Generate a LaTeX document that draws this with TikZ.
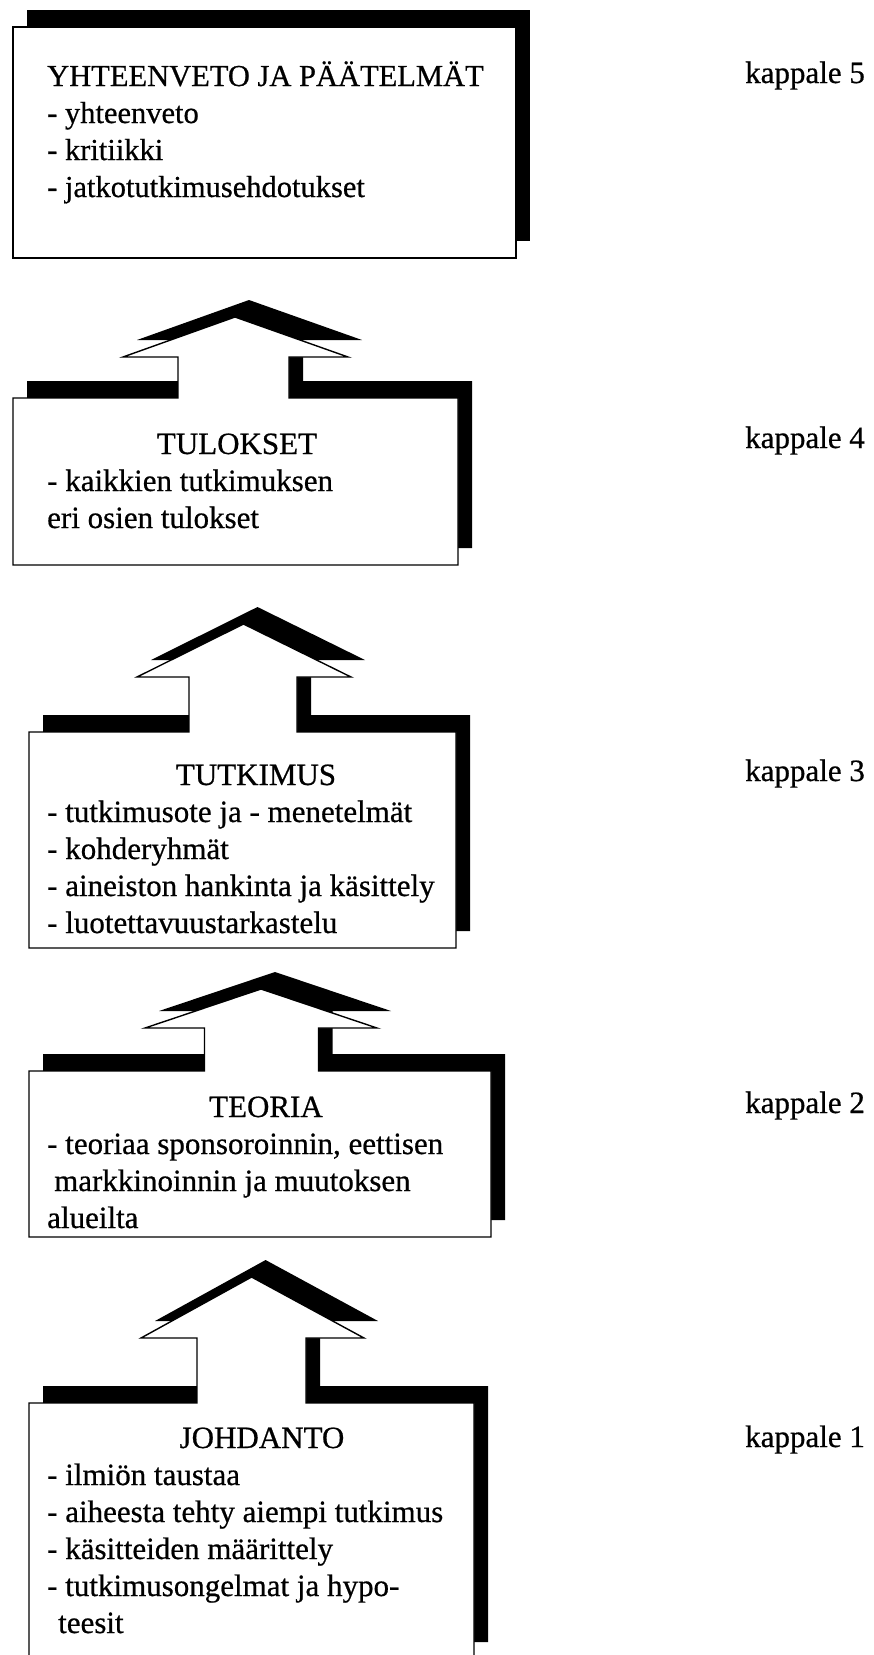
\documentclass[tikz,border=0pt]{standalone}
\usepackage{fontspec}
\setmainfont{Liberation Serif}[FakeBold=0.6]
\newfontfamily\heavyserif{Liberation Serif}[FakeBold=0.6]
\begin{document}
\begin{tikzpicture}[x=1pt,y=-1pt,
  shade/.style={fill=black,draw=none,shift={(14,-17)}},
  front/.style={fill=white,draw=black,line width=1.4pt,line join=miter},
  txt/.style={inner sep=0pt,font=\heavyserif\fontsize{31}{36}\selectfont},
  itemline/.style={txt,anchor=base west},
  ttl/.style={txt,anchor=base},
  topline/.style={inner sep=0pt,anchor=base west,font=\heavyserif\fontsize{30.5}{36}\selectfont},
  lbl/.style={txt,anchor=base west}]
\useasboundingbox (0,0) rectangle (874,1655);
\clip (0,0) rectangle (874,1655);
\fill[white] (0,0) rectangle (874,1655);
% box 5 (no arrow)
\fill[shade] (13,27) rectangle (516,258);
\draw[front] (13,27) rectangle (516,258);
% boxes with arrows
\foreach \L/\T/\R/\B/\sl/\sr/\hy/\bl/\br/\tx/\ty in {
  13/398/458/565/178/289/357/123/348/235/317,
  29/732/456/948/189/297/677/137/351/243.5/624,
  29/1071/491/1237/204.5/318.5/1028/145/377/261/989,
  29/1403/474/1659/197/306/1338/141/364/251.6/1277}{
  \fill[shade] (\L,\T) -- (\sl,\T) -- (\sl,\hy) -- (\bl,\hy) -- (\tx,\ty) -- (\br,\hy) -- (\sr,\hy) -- (\sr,\T) -- (\R,\T) -- (\R,\B) -- (\L,\B) -- cycle;
  \draw[front] (\L,\T) -- (\sl,\T) -- (\sl,\hy) -- (\bl,\hy) -- (\tx,\ty) -- (\br,\hy) -- (\sr,\hy) -- (\sr,\T) -- (\R,\T) -- (\R,\B) -- (\L,\B) -- cycle;
}
% box 5 text
\node[topline] (t5) at (47,86) {YHTEENVETO JA PÄÄTELMÄT};
\node[topline] (t5a) at (47,123) {- yhteenveto};
\node[topline] (t5b) at (47,160) {- kritiikki};
\node[topline] (t5c) at (47,197) {- jatkotutkimusehdotukset};
% box 4 text
\node[ttl] (t4) at (237,454) {TULOKSET};
\node[itemline] (t4a) at (47,491) {- kaikkien tutkimuksen};
\node[itemline] (t4b) at (47,528) {eri osien tulokset};
% box 3 text
\node[ttl] (t3) at (256,785) {TUTKIMUS};
\node[itemline] (t3a) at (47,822) {- tutkimusote ja - menetelmät};
\node[itemline] (t3b) at (47,859) {- kohderyhmät};
\node[itemline] (t3c) at (47,896) {- aineiston hankinta ja käsittely};
\node[itemline] (t3d) at (47,933) {- luotettavuustarkastelu};
% box 2 text
\node[ttl] (t2) at (266,1117) {TEORIA};
\node[itemline] (t2a) at (47,1154) {- teoriaa sponsoroinnin, eettisen};
\node[itemline] (t2b) at (54,1191) {markkinoinnin ja muutoksen};
\node[itemline] (t2c) at (47,1228) {alueilta};
% box 1 text
\node[ttl] (t1) at (262,1448) {JOHDANTO};
\node[itemline] (t1a) at (47,1485) {- ilmiön taustaa};
\node[itemline] (t1b) at (47,1522) {- aiheesta tehty aiempi tutkimus};
\node[itemline] (t1c) at (47,1559) {- käsitteiden määrittely};
\node[itemline] (t1d) at (47,1596) {- tutkimusongelmat ja hypo-};
\node[itemline] (t1e) at (58,1633) {teesit};
% chapter labels
\node[lbl] (k5) at (745,83) {kappale 5};
\node[lbl] (k4) at (745,448) {kappale 4};
\node[lbl] (k3) at (745,781) {kappale 3};
\node[lbl] (k2) at (745,1113) {kappale 2};
\node[lbl] (k1) at (745,1447) {kappale 1};
\end{tikzpicture}
\end{document}
